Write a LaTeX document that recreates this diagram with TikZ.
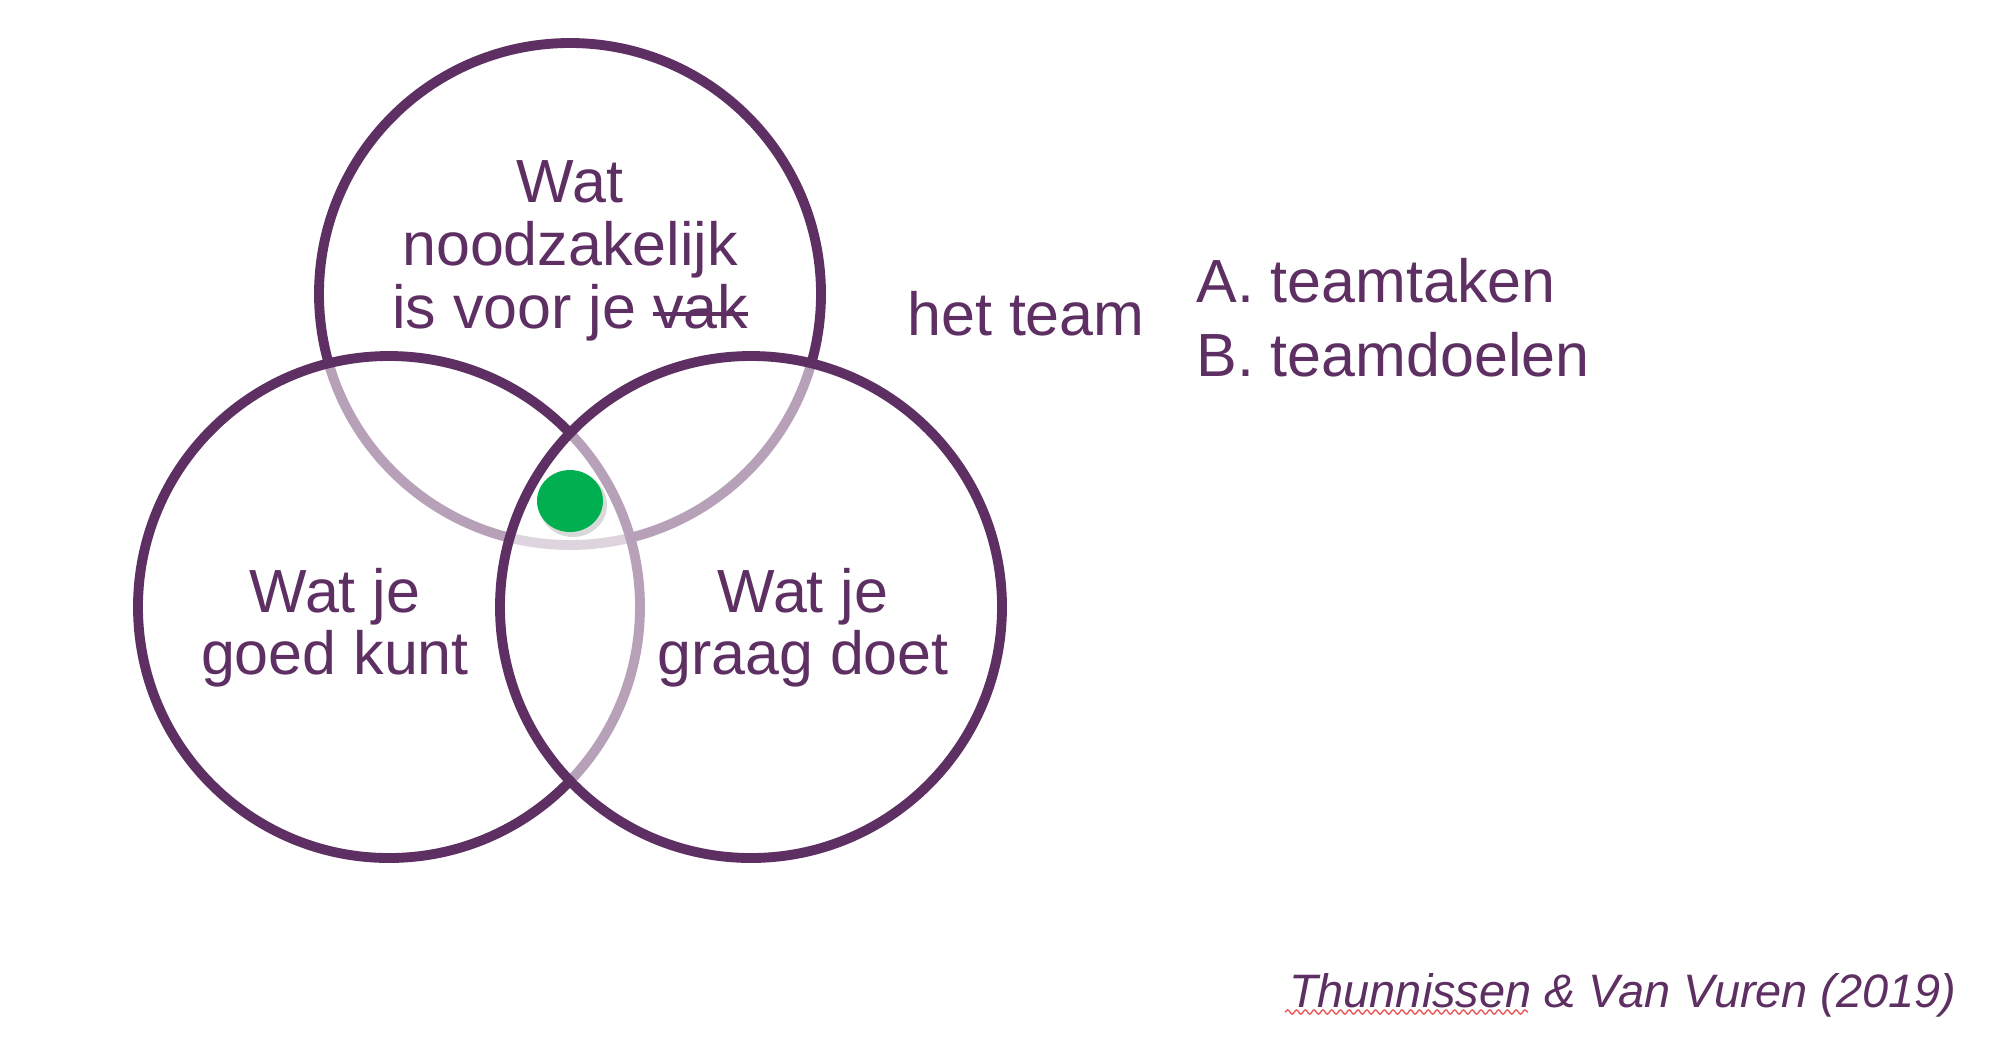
\documentclass[tikz,border=0pt]{standalone}
\usepackage{fontspec}
\setmainfont{Liberation Sans}
\usetikzlibrary{decorations.pathmorphing}
\definecolor{vpurple}{RGB}{94,47,98}
\definecolor{vgreen}{RGB}{0,176,80}
\definecolor{squig}{RGB}{235,90,90}
\newsavebox\strikebox
\newcommand\mystrike[1]{\sbox\strikebox{#1}\rlap{\usebox\strikebox}\raisebox{0.2em}{\rule{\wd\strikebox}{0.07em}}}
\tikzset{
  circ/.style={draw=vpurple, line width=5.6pt},
  veil/.style={fill=white, fill opacity=0.55},
  lbl/.style={text=vpurple, font=\fontsize{34.7}{36}\selectfont, anchor=base, inner sep=0pt},
  lbll/.style={lbl, anchor=base west},
  cite/.style={text=vpurple, font=\fontsize{26.7}{30}\selectfont\itshape, anchor=base east, inner sep=0pt},
}
\begin{document}
\begin{tikzpicture}[x=0.02cm, y=-0.02cm]
\useasboundingbox[fill=white] (0,0) rectangle (1999,1046);
% circles
\draw[circ] (570,294) circle (251);
\fill[veil] (389,607) circle (251);
\draw[circ] (389,607) circle (251);
\fill[veil] (751,607) circle (251);
\draw[circ] (751,607) circle (251);
% green dot
\fill[black, opacity=0.15] (573,505) ellipse (34 and 32);
\fill[vgreen] (570,501) ellipse (33 and 31);
% top text
\node[lbl] (t1) at (570,202) {Wat};
\node[lbl] (t2) at (570,265) {noodzakelijk};
\node[lbl] (t3) at (570,328) {is voor je \mystrike{vak}};
% left text
\node[lbl] (l1) at (335,612) {Wat je};
\node[lbl] (l2) at (335,674) {goed kunt};
% right text
\node[lbl] (r1) at (803,612) {Wat je};
\node[lbl] (r2) at (803,674) {graag doet};
% team
\node[lbl] (team) at (1026,335) {het team};
\node[lbll] (a) at (1196,302) {A. teamtaken};
\node[lbll] (b) at (1196,376) {B. teamdoelen};
% citation
\node[cite] (c) at (1957,1007) {Thunnissen \& Van Vuren (2019)};
\draw[squig, line width=0.8pt, decorate, decoration={snake, amplitude=1.2, segment length=5}] (1285,1012) -- (1528,1012);
\end{tikzpicture}
\end{document}
